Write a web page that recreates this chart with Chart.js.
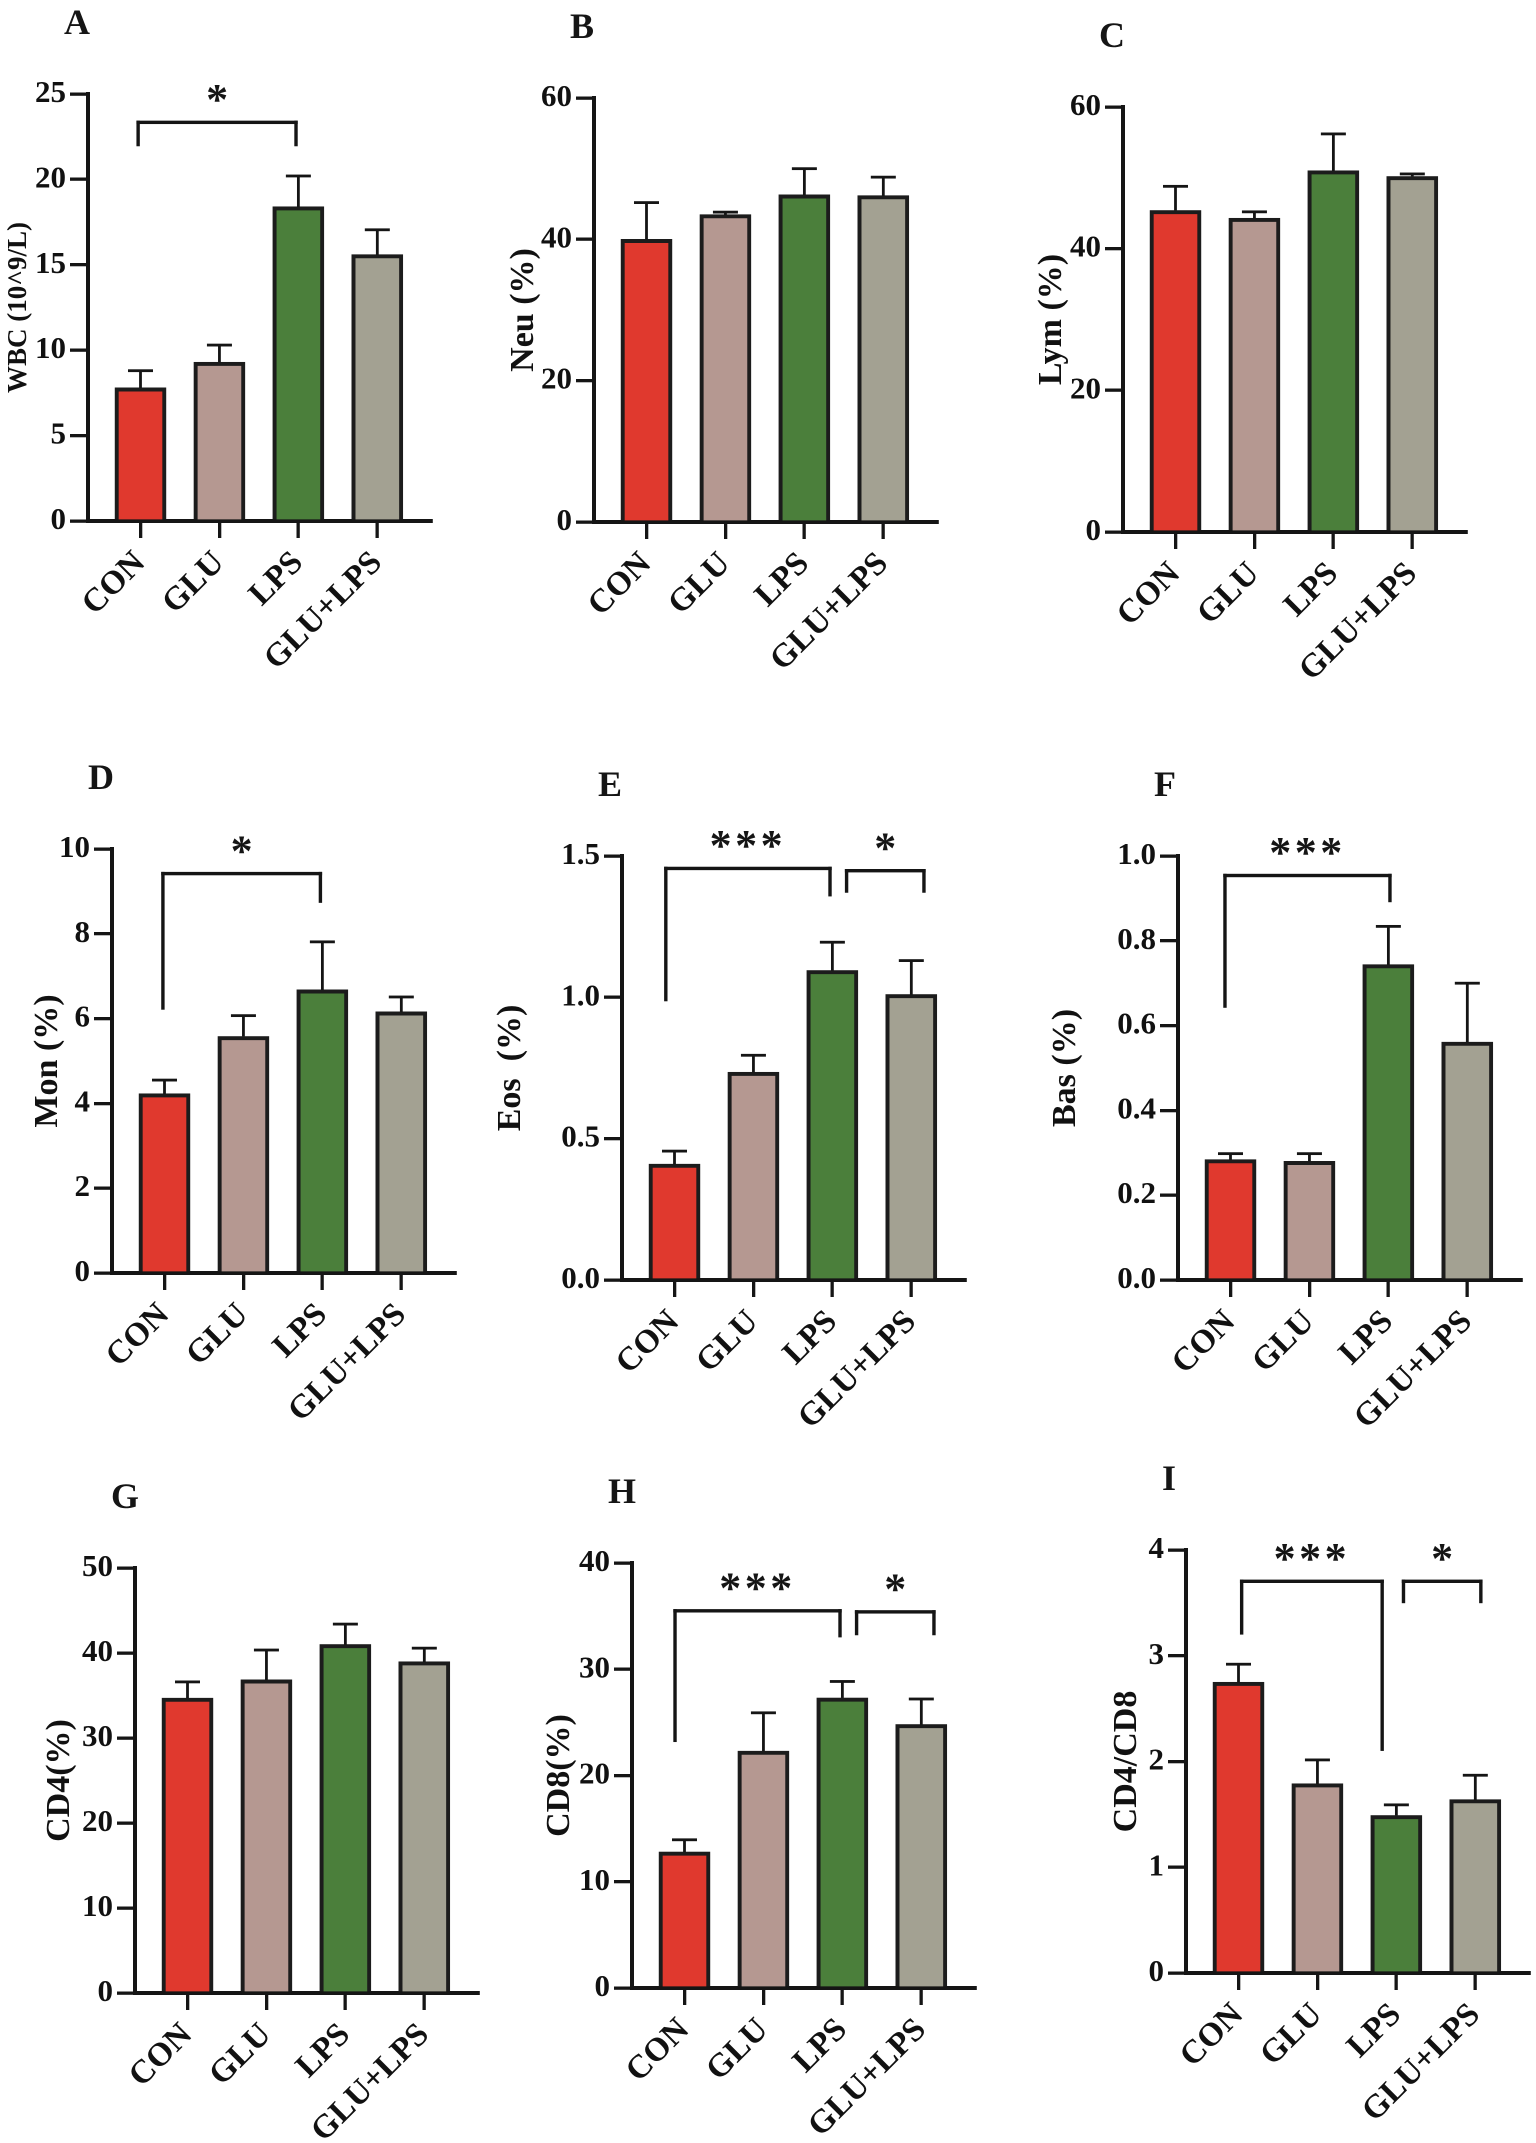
<!DOCTYPE html>
<html><head><meta charset="utf-8">
<script src="https://cdn.jsdelivr.net/npm/chart.js@4.4.1/dist/chart.umd.min.js"></script>
<style>
html,body{margin:0;padding:0;background:#fff;overflow:hidden;width:1536px;height:2143px;position:relative;}
.panel{position:absolute;}
</style></head><body>
<script>
// ---------------- data ----------------
const categories = ['CON', 'GLU', 'LPS', 'GLU+LPS'];
const barColors = ['#E0392E', '#B59891', '#4B7F3B', '#A3A192'];

const wbcMean = [7.8, 9.3, 18.4, 15.6];      const wbcSem = [1.0, 1.0, 1.8, 1.45];
const neuMean = [40.0, 43.5, 46.3, 46.2];    const neuSem = [5.2, 0.35, 3.7, 2.6];
const lymMean = [45.4, 44.3, 51.0, 50.2];    const lymSem = [3.4, 0.9, 5.2, 0.35];
const monMean = [4.23, 5.58, 6.68, 6.16];    const monSem = [0.32, 0.49, 1.13, 0.35];
const eosMean = [0.41, 0.735, 1.095, 1.01];  const eosSem = [0.046, 0.06, 0.1, 0.12];
const basMean = [0.284, 0.28, 0.744, 0.561]; const basSem = [0.014, 0.018, 0.09, 0.139];
const cd4Mean = [34.7, 36.85, 41.0, 38.97];  const cd4Sem = [1.9, 3.5, 2.4, 1.6];
const cd8Mean = [12.8, 22.3, 27.3, 24.8];    const cd8Sem = [1.15, 3.6, 1.55, 2.4];
const ratioMean = [2.75, 1.79, 1.49, 1.64];  const ratioSem = [0.17, 0.225, 0.1, 0.23];

const panelLetters = ['A', 'B', 'C', 'D', 'E', 'F', 'G', 'H', 'I'];
const yTitles = ['WBC (10^9/L)', 'Neu (%)', 'Lym (%)', 'Mon (%)', 'Eos  (%)', 'Bas (%)', 'CD4(%)', 'CD8(%)', 'CD4/CD8'];
const yMax = [25, 60, 60, 10, 1.5, 1.0, 50, 40, 4];
const yStep = [5, 20, 20, 2, 0.5, 0.2, 10, 10, 1];
const yDecimals = [0, 0, 0, 0, 1, 1, 0, 0, 0];

// significance brackets: [fromCat, toCat, lineValue, leftEndValue, rightEndValue, label]
const bracketsA = [[-0.03, 1.97, 23.34, 21.94, 21.94, '*']];
const bracketsD = [[-0.02, 1.975, 9.42, 6.21, 8.73, '*']];
const bracketsE = [[-0.11, 1.97, 1.456, 0.986, 1.357, '***'], [2.18, 3.16, 1.448, 1.37, 1.37, '*']];
const bracketsF = [[-0.07, 2.02, 0.954, 0.642, 0.891, '***']];
const bracketsH = [[-0.12, 1.97, 35.5, 23.15, 33.0, '***'], [2.18, 3.16, 35.4, 33.2, 33.2, '*']];
const bracketsI = [[0.04, 1.82, 3.704, 3.20, 2.10, '***'], [2.09, 3.07, 3.704, 3.497, 3.497, '*']];

const means = [wbcMean, neuMean, lymMean, monMean, eosMean, basMean, cd4Mean, cd8Mean, ratioMean];
const sems = [wbcSem, neuSem, lymSem, monSem, eosSem, basSem, cd4Sem, cd8Sem, ratioSem];
const brackets = [bracketsA, [], [], bracketsD, bracketsE, bracketsF, [], bracketsH, bracketsI];

// ---------------- layout (page px) ----------------
const axisX = [88, 594, 1123, 112, 622, 1178, 135, 632, 1186];
const axisTop = [94, 98, 107, 849, 856, 856, 1568, 1563, 1550];
const plotH = [427, 424, 425, 424, 424, 424, 425, 425, 423];
const titleDX = [-69, -70, -71, -64, -111, -112, -75, -72, -59];
const titleSize = [27, 34, 34, 34, 34, 34, 34, 34, 34];
const PAD_TOP = 130, PAD_LEFT_AXIS = 140, PLOT_W = 343, X_BOX = 240;

const FONT = "'Liberation Serif', 'Times New Roman', serif";
Chart.defaults.font.family = FONT;
Chart.defaults.font.weight = 'bold';
Chart.defaults.color = '#111';

const annot = {
  id: 'annot',
  afterDatasetsDraw(chart, args, opts) {
    const {ctx, chartArea} = chart;
    const x = chart.scales.x, y = chart.scales.y;
    const k = opts.k;
    ctx.save();
    ctx.fillStyle = '#151515';
    // error bars (mean + SEM)
    means[k].forEach((m, i) => {
      const cx = x.getPixelForValue(i);
      const y0 = y.getPixelForValue(m);
      const y1 = y.getPixelForValue(m + sems[k][i]);
      const vw = 2.8, cw = 25;
      ctx.fillRect(cx - vw / 2, y1, vw, y0 - y1);
      ctx.fillRect(cx - cw / 2, y1 - 1.4, cw, 2.8);
    });
    // significance brackets
    brackets[k].forEach(b => {
      const xa = x.getPixelForValue(b[0]), xb = x.getPixelForValue(b[1]);
      const yl = y.getPixelForValue(b[2]), ya = y.getPixelForValue(b[3]), yb = y.getPixelForValue(b[4]);
      const w = 3.4;
      ctx.fillRect(xa - w / 2, yl - w / 2, xb - xa + w, w);
      ctx.fillRect(xa - w / 2, yl - w / 2, w, ya - yl + w / 2);
      ctx.fillRect(xb - w / 2, yl - w / 2, w, yb - yl + w / 2);
      ctx.font = 'bold 44px ' + FONT;
      ctx.textAlign = 'center';
      ctx.textBaseline = 'alphabetic';
      if ('letterSpacing' in ctx) ctx.letterSpacing = b[5].length > 1 ? '3.5px' : '0px';
      ctx.fillText(b[5], (xa + xb) / 2, yl - 29 + 0.47 * 44);
      if ('letterSpacing' in ctx) ctx.letterSpacing = '0px';
    });
    // panel letter
    ctx.font = 'bold 36px ' + FONT;
    ctx.textAlign = 'left';
    ctx.textBaseline = 'alphabetic';
    ctx.fillText(panelLetters[k], chartArea.left - 24, chartArea.top - 60);
    ctx.restore();
  }
};

for (let k = 0; k < 9; k++) {
  const Wc = PAD_LEFT_AXIS + PLOT_W + 25;
  const Hc = PAD_TOP + plotH[k] + X_BOX + 5;
  const div = document.createElement('div');
  div.className = 'panel';
  div.style.left = (axisX[k] - PAD_LEFT_AXIS) + 'px';
  div.style.top = (axisTop[k] - PAD_TOP) + 'px';
  div.style.width = Wc + 'px';
  div.style.height = Hc + 'px';
  const cv = document.createElement('canvas');
  div.appendChild(cv);
  document.body.appendChild(div);

  const pl = (PAD_LEFT_AXIS + titleDX[k]) - titleSize[k] / 2;
  const Wy = PAD_LEFT_AXIS - pl;

  new Chart(cv, {
    type: 'bar',
    data: {
      datasets: [{
        data: means[k].map((v, i) => ({x: i, y: v})),
        backgroundColor: barColors,
        borderColor: '#1c1c1c',
        borderWidth: {top: 4, left: 4, right: 4, bottom: 0},
        borderSkipped: 'start',
        barThickness: 51
      }]
    },
    options: {
      responsive: true,
      maintainAspectRatio: false,
      animation: false,
      devicePixelRatio: 2,
      layout: {padding: {left: pl, right: 25, top: PAD_TOP, bottom: 5}},
      plugins: {legend: {display: false}, tooltip: {enabled: false}, annot: {k: k}},
      scales: {
        x: {
          type: 'linear', min: -0.665, max: 3.68, offset: false, z: 1,
          grid: {display: true, drawOnChartArea: false, drawTicks: true, tickLength: 17, lineWidth: 3.3, color: '#151515', offset: false},
          border: {display: true, color: '#151515', width: 4},
          afterBuildTicks: s => { s.ticks = categories.map((c, i) => ({value: i})); },
          afterFit: s => { s.height = X_BOX; },
          ticks: {autoSkip: false, minRotation: 45, maxRotation: 45, padding: 6, color: '#111',
                  font: {size: 33, weight: 'bold'}, callback: v => categories[Math.round(v)]}
        },
        y: {
          min: 0, max: yMax[k],
          grid: {display: true, drawOnChartArea: false, drawTicks: true, tickLength: 18, lineWidth: 3.3, color: '#151515'},
          border: {display: true, color: '#151515', width: 4},
          afterFit: s => { s.width = Wy; },
          ticks: {stepSize: yStep[k], padding: 4, color: '#111', font: {size: 31, weight: 'bold'},
                  callback: v => Number(v).toFixed(yDecimals[k])},
          title: {display: true, text: yTitles[k], color: '#111', padding: 0,
                  font: {size: titleSize[k], weight: 'bold', lineHeight: 1}}
        }
      }
    },
    plugins: [annot]
  });
}
</script>
</body></html>
